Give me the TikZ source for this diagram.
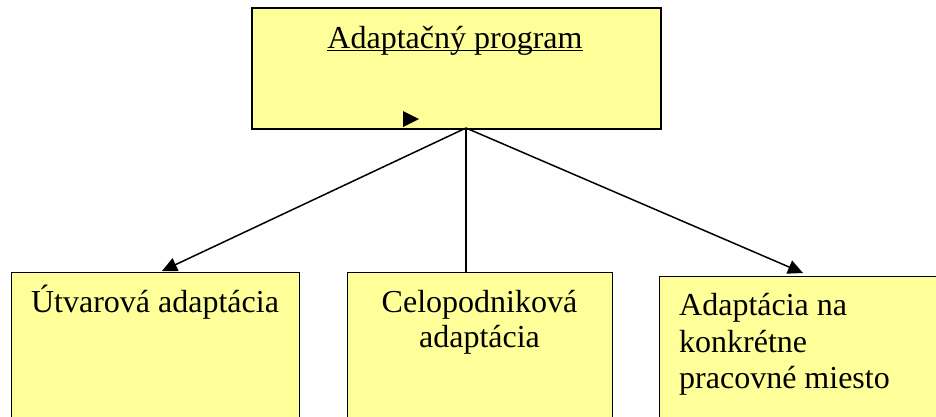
\documentclass[tikz,border=0pt]{standalone}
\usepackage{fontspec}
\setmainfont{Liberation Serif}
\usetikzlibrary{arrows.meta}
\definecolor{boxyellow}{RGB}{255,255,153}
\tikzset{
  box/.style={draw=black, fill=boxyellow, rectangle, inner sep=0pt, anchor=north west},
  txt/.style={inner sep=0pt, font=\fontsize{32}{35}\selectfont},
  conn/.style={line width=1.5pt, draw=black},
  arr/.style={conn, -{Triangle[length=15pt,width=14pt]}}
}
\begin{document}
\begin{tikzpicture}[x=1pt,y=-1pt]
\clip (0,0) rectangle (936,416);
% top box
\node[box, line width=2pt, minimum width=409pt, minimum height=121pt] (top) at (251,7) {};
\node[txt, anchor=base] (title) at (455,48) {Adaptačný program};
\draw[line width=1.4pt] ([yshift=-2.5pt]title.base west) -- ([yshift=-2.5pt]title.base east);
\fill (403,111) -- (419,119) -- (403,127) -- cycle;
% bottom boxes
\node[box, line width=1.3pt, minimum width=288pt, minimum height=160pt] (left) at (11,272) {};
\node[box, line width=1.3pt, minimum width=265pt, minimum height=160pt] (mid) at (347,272) {};
\node[box, line width=1.3pt, minimum width=300pt, minimum height=160pt] (right) at (659,276) {};
% texts
\node[txt, anchor=base] (ltext) at (155,312) {Útvarová adaptácia};
\node[txt, anchor=base] (mtext1) at (479.5,312) {Celopodniková};
\node[txt, anchor=base] (mtext2) at (479.5,347) {adaptácia};
\node[txt, anchor=base west] (rtext1) at (679,315) {Adaptácia na};
\node[txt, anchor=base west] (rtext2) at (679,352) {konkrétne};
\node[txt, anchor=base west] (rtext3) at (679,388) {pracovné miesto};
% connectors
\coordinate (src) at (466,128);
\coordinate (ltip) at (162,271);
\coordinate (mtip) at (466,272);
\coordinate (rtip) at (803,273);
\draw[arr] (src) -- (ltip);
\draw[conn] (src) -- (mtip);
\draw[arr] (src) -- (rtip);
\end{tikzpicture}
\end{document}
